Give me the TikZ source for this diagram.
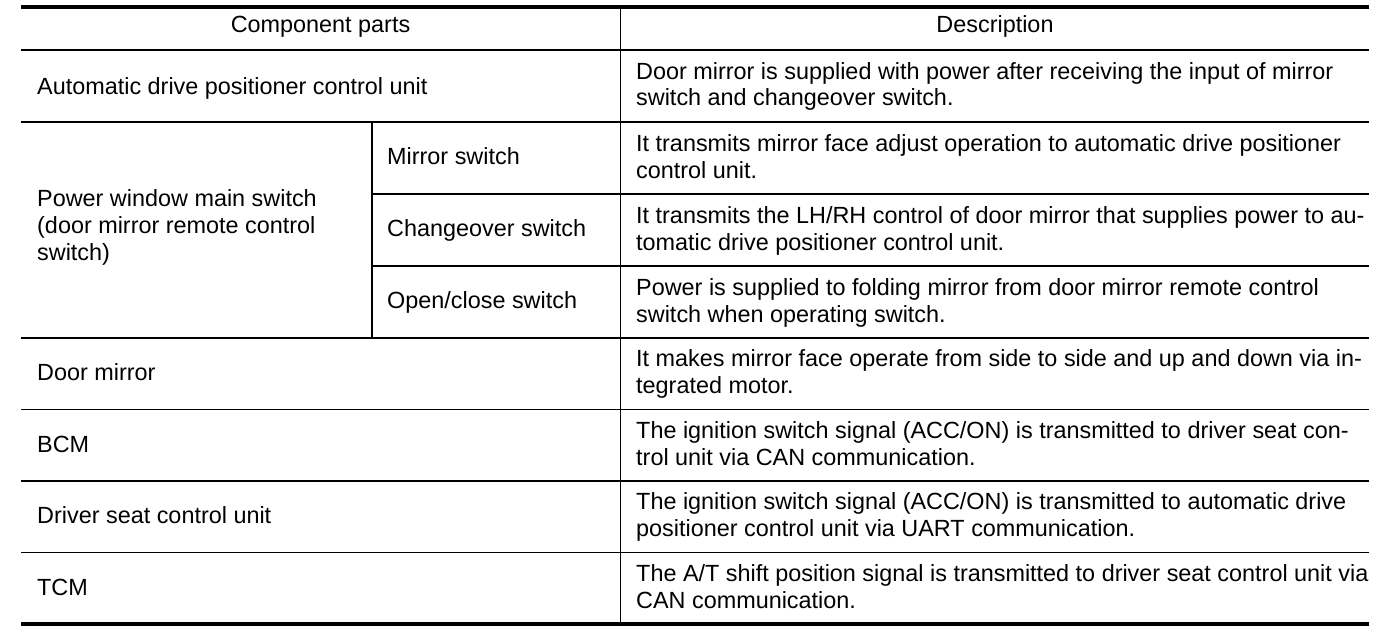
\documentclass[tikz,border=0pt]{standalone}
\usepackage{fontspec}
\setmainfont{Liberation Sans}
\begin{document}
\begin{tikzpicture}[x=1pt,y=-1pt,
  txt/.style={anchor=base west, inner sep=0pt, font=\fontsize{23.4}{27}\selectfont},
  hdr/.style={anchor=base, inner sep=0pt, font=\fontsize{23.4}{27}\selectfont},
  thinrule/.style={line width=1.3pt},
  midrule/.style={line width=2pt},
  heavyrule/.style={line width=4pt}]
\useasboundingbox (0,0) rectangle (1392,634);
% rules
\draw[heavyrule] (21,7) -- (1369,7);
\draw[midrule] (21,50) -- (1369,50);
\draw[thinrule] (21,122) -- (1369,122);
\draw[thinrule] (372,194) -- (1369,194);
\draw[thinrule] (372,266) -- (1369,266);
\draw[thinrule] (21,338) -- (1369,338);
\draw[thinrule] (21,409.5) -- (1369,409.5);
\draw[thinrule] (21,481) -- (1369,481);
\draw[thinrule] (21,552.5) -- (1369,552.5);
\draw[heavyrule] (21,624) -- (1369,624);
\draw[thinrule] (620.5,9) -- (620.5,622);
\draw[thinrule] (372,122) -- (372,338);
% header
\node[hdr] (h1) at (320.5,32.3) {Component parts};
\node[hdr] (h2) at (995,32.3) {Description};
% row 1
\node[txt] (c1) at (37,94) {Automatic drive positioner control unit};
\node[txt] (d1a) at (636,79) {Door mirror is supplied with power after receiving the input of mirror};
\node[txt] (d1b) at (636,106) {switch and changeover switch.};
% power window
\node[txt] (c2a) at (37,206.7) {Power window main switch};
\node[txt] (c2b) at (37,233.4) {(door mirror remote control};
\node[txt] (c2c) at (37,260.1) {switch)};
% row 2
\node[txt] (s2) at (387,164.5) {Mirror switch};
\node[txt] (d2a) at (636,151) {It transmits mirror face adjust operation to automatic drive positioner};
\node[txt] (d2b) at (636,178) {control unit.};
% row 3
\node[txt] (s3) at (387,236.5) {Changeover switch};
\node[txt] (d3a) at (636,223) {It transmits the LH/RH control of door mirror that supplies power to au-};
\node[txt] (d3b) at (636,250) {tomatic drive positioner control unit.};
% row 4
\node[txt] (s4) at (387,308) {Open/close switch};
\node[txt] (d4a) at (636,295) {Power is supplied to folding mirror from door mirror remote control};
\node[txt] (d4b) at (636,322) {switch when operating switch.};
% row 5
\node[txt] (c5) at (37,380.5) {Door mirror};
\node[txt] (d5a) at (636,366.8) {It makes mirror face operate from side to side and up and down via in-};
\node[txt] (d5b) at (636,393.8) {tegrated motor.};
% row 6
\node[txt] (c6) at (37,452) {BCM};
\node[txt] (d6a) at (636,438.3) {The ignition switch signal (ACC/ON) is transmitted to driver seat con-};
\node[txt] (d6b) at (636,465.3) {trol unit via CAN communication.};
% row 7
\node[txt] (c7) at (37,523.5) {Driver seat control unit};
\node[txt] (d7a) at (636,509.8) {The ignition switch signal (ACC/ON) is transmitted to automatic drive};
\node[txt] (d7b) at (636,536.8) {positioner control unit via UART communication.};
% row 8
\node[txt] (c8) at (37,595) {TCM};
\node[txt] (d8a) at (636,581.3) {The A/T shift position signal is transmitted to driver seat control unit via};
\node[txt] (d8b) at (636,608.3) {CAN communication.};
\end{tikzpicture}
\end{document}
